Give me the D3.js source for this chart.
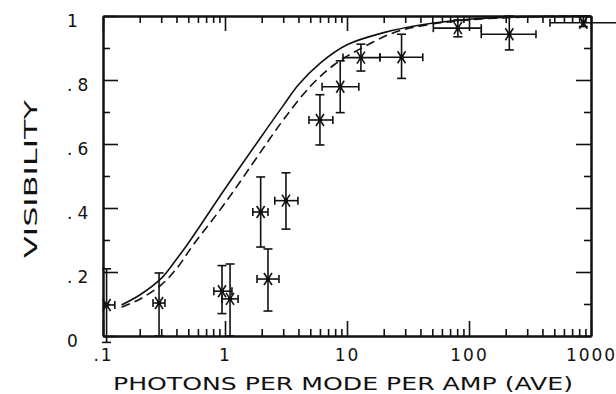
<!DOCTYPE html>
<html>
<head>
    <script src="https://cdn.jsdelivr.net/npm/d3@7"></script>
    <style>
        body { margin: 0; background: #fff; }
        text { font-family: "DejaVu Sans", sans-serif; fill: #111; }
    </style>
</head>

<body>
<div id="chart"></div>

<script>

    // measured points (photons per mode per amp, visibility) with error ranges
    var ptX  = [0.107, 0.288, 0.945, 1.1, 1.96, 2.25, 3.16, 6.0, 8.8, 13.0, 28, 81, 214, 865];
    var ptY  = [0.097, 0.103, 0.14, 0.116, 0.3875, 0.178, 0.423, 0.675, 0.779, 0.87, 0.871, 0.962, 0.943, 0.979];
    var ptYlo = [-0.02, 0.0, 0.07, 0.0, 0.278, 0.078, 0.334, 0.597, 0.698, 0.828, 0.805, 0.935, 0.894, 0.967];
    var ptYhi = [0.21, 0.197, 0.22, 0.225, 0.497, 0.272, 0.51, 0.754, 0.86, 0.912, 0.943, 0.9875, 1.0, 1.0];
    var ptXlo = [0.102, 0.257, 0.81, 0.943, 1.69, 1.83, 2.56, 4.88, 6.25, 9.27, 18.6, 51, 126, 461];
    var ptXhi = [0.125, 0.322, 1.14, 1.28, 2.25, 2.77, 3.96, 7.66, 12.5, 18.6, 41.8, 126, 354, 2000];

    // theory curves
    var solidX = [0.142, 0.2, 0.3, 0.4, 0.5, 1.0, 2.0, 3.0, 4.0, 6.0, 10, 20, 40, 100, 300, 1000];
    var solidY = [0.097, 0.128, 0.18, 0.24, 0.29, 0.46, 0.625, 0.72, 0.785, 0.852, 0.91, 0.948, 0.972, 0.99, 0.998, 1.0];
    var dashX = [0.142, 0.2, 0.3, 0.4, 0.55, 1.0, 2.0, 3.0, 5.0, 8.0, 14, 25, 45, 100, 300, 1000];
    var dashY = [0.09, 0.115, 0.16, 0.21, 0.285, 0.415, 0.58, 0.675, 0.78, 0.85, 0.905, 0.95, 0.972, 0.988, 0.997, 1.0];

    var xMajor = [0.1, 1, 10, 100, 1000];
    var xTickLabels = [".1", "1", "10", "100", "1000"];
    var yMajor = [0, 0.2, 0.4, 0.6, 0.8, 1];
    var yMinor = [0.1, 0.3, 0.5, 0.7, 0.9];
    var yTickLabels = ["0", ".2", ".4", ".6", ".8", "1"];

    var width = 616;
    var height = 394;
    var plot = { left: 103, right: 591, top: 16, bottom: 336 };

    var xScale = d3.scaleLog()
        .domain([0.1, 1000])
        .range([plot.left, plot.right]);

    var yScale = d3.scaleLinear()
        .domain([0, 1])
        .range([plot.bottom, plot.top]);

    var xMinor = xScale.ticks().filter(function(d) { return xMajor.indexOf(d) < 0; });

    var svg = d3.select('#chart').append('svg')
        .attr('width', width)
        .attr('height', height);

    function styleAxis(g) {
        g.select('.domain').attr('stroke', '#111').attr('stroke-width', 2);
        g.selectAll('.tick line').attr('stroke', '#111').attr('stroke-width', 1.6);
    }

    // bottom
    var bottomMajor = svg.append('g')
        .attr('transform', 'translate(0,' + plot.bottom + ')')
        .call(d3.axisBottom(xScale).tickValues(xMajor).tickSize(-15).tickSizeOuter(0)
            .tickFormat(function(d, i) { return xTickLabels[i]; }))
        .call(styleAxis);
    bottomMajor.selectAll('.tick text')
        .attr('y', 24.5).attr('dy', 0)
        .attr('font-size', 17).attr('letter-spacing', 2)
        .attr('font-family', '"DejaVu Sans", sans-serif')
        .style('fill', '#111');
    svg.append('g')
        .attr('transform', 'translate(0,' + plot.bottom + ')')
        .call(d3.axisBottom(xScale).tickValues(xMinor).tickSize(-7).tickSizeOuter(0).tickFormat(''))
        .call(styleAxis);

    // top
    svg.append('g')
        .attr('transform', 'translate(0,' + plot.top + ')')
        .call(d3.axisTop(xScale).tickValues(xMajor).tickSize(-15).tickSizeOuter(0).tickFormat(''))
        .call(styleAxis);
    svg.append('g')
        .attr('transform', 'translate(0,' + plot.top + ')')
        .call(d3.axisTop(xScale).tickValues(xMinor).tickSize(-7).tickSizeOuter(0).tickFormat(''))
        .call(styleAxis);

    // left
    var leftMajor = svg.append('g')
        .attr('transform', 'translate(' + plot.left + ',0)')
        .call(d3.axisLeft(yScale).tickValues(yMajor).tickSize(-15).tickSizeOuter(0)
            .tickFormat(function(d, i) { return yTickLabels[i]; }))
        .call(styleAxis);
    leftMajor.selectAll('.tick text')
        .attr('x', 67 - plot.left).attr('y', 10).attr('dy', 0)
        .attr('text-anchor', 'start')
        .attr('font-size', 17).attr('letter-spacing', 5)
        .attr('font-family', '"DejaVu Sans", sans-serif')
        .style('fill', '#111');
    svg.append('g')
        .attr('transform', 'translate(' + plot.left + ',0)')
        .call(d3.axisLeft(yScale).tickValues(yMinor).tickSize(-7).tickSizeOuter(0).tickFormat(''))
        .call(styleAxis);

    // right
    svg.append('g')
        .attr('transform', 'translate(' + plot.right + ',0)')
        .call(d3.axisRight(yScale).tickValues(yMajor).tickSize(-15).tickSizeOuter(0).tickFormat(''))
        .call(styleAxis);
    svg.append('g')
        .attr('transform', 'translate(' + plot.right + ',0)')
        .call(d3.axisRight(yScale).tickValues(yMinor).tickSize(-7).tickSizeOuter(0).tickFormat(''))
        .call(styleAxis);

    // curves
    var line = d3.line()
        .x(function(d) { return xScale(d[0]); })
        .y(function(d) { return yScale(d[1]); })
        .curve(d3.curveCatmullRom.alpha(0.5));

    svg.append('path')
        .datum(d3.zip(solidX, solidY))
        .attr('fill', 'none')
        .attr('stroke', '#111')
        .attr('stroke-width', 1.6)
        .attr('d', line);

    svg.append('path')
        .datum(d3.zip(dashX, dashY))
        .attr('fill', 'none')
        .attr('stroke', '#111')
        .attr('stroke-width', 1.6)
        .attr('stroke-dasharray', '9,5')
        .attr('d', line);

    // data points with error bars
    var points = ptX.map(function(d, i) {
        return { x: d, y: ptY[i], ylo: ptYlo[i], yhi: ptYhi[i], xlo: ptXlo[i], xhi: ptXhi[i] };
    });

    var pg = svg.selectAll('g.point')
        .data(points)
        .enter()
        .append('g')
        .attr('class', 'point')
        .attr('stroke', '#111')
        .attr('stroke-width', 1.6)
        .attr('fill', 'none');

    pg.each(function(d) {
        var g = d3.select(this);
        var cx = xScale(d.x), cy = yScale(d.y);
        var y0 = yScale(d.ylo), y1 = yScale(d.yhi);
        var x0 = xScale(d.xlo), x1 = xScale(d.xhi);
        var segs = [
            [cx, y0, cx, y1],
            [cx - 4.5, y0, cx + 4.5, y0],
            [cx - 4.5, y1, cx + 4.5, y1],
            [x0, cy, x1, cy],
            [x0, cy - 4, x0, cy + 4],
            [x1, cy - 4, x1, cy + 4],
            [cx - 4, cy - 6, cx + 4, cy + 6],
            [cx - 4, cy + 6, cx + 4, cy - 6]
        ];
        g.selectAll('line')
            .data(segs)
            .enter()
            .append('line')
            .attr('x1', function(s) { return s[0]; })
            .attr('y1', function(s) { return s[1]; })
            .attr('x2', function(s) { return s[2]; })
            .attr('y2', function(s) { return s[3]; });
        g.append('rect')
            .attr('x', cx - 2).attr('y', cy - 2)
            .attr('width', 4).attr('height', 4)
            .attr('fill', '#111').attr('stroke', 'none');
    });

    // axis titles
    svg.append('text')
        .attr('x', 113)
        .attr('y', 390)
        .attr('font-size', 18)
        .attr('textLength', 460)
        .attr('lengthAdjust', 'spacingAndGlyphs')
        .text('PHOTONS PER MODE PER AMP (AVE)');

    svg.append('text')
        .attr('transform', 'translate(37,258) rotate(-90)')
        .attr('font-size', 18)
        .attr('textLength', 158)
        .attr('lengthAdjust', 'spacingAndGlyphs')
        .text('VISIBILITY');

</script>
</body>
</html>
